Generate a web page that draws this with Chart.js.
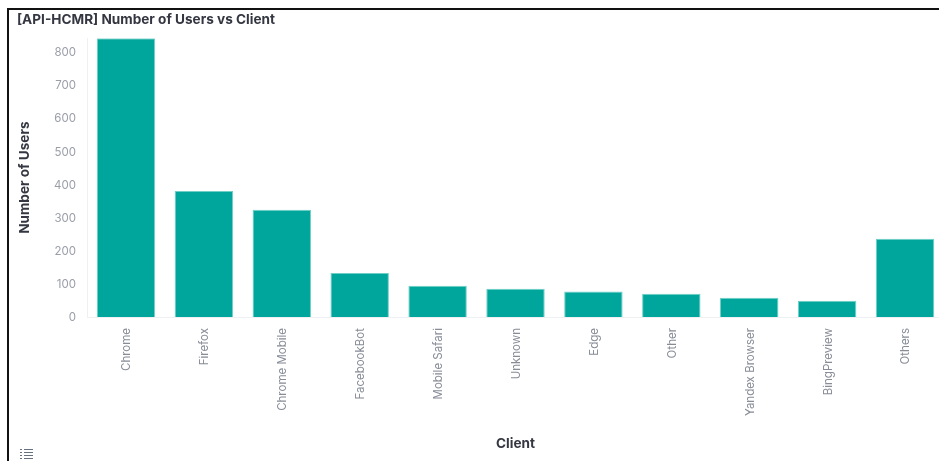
<!DOCTYPE html>
<html>
<head>
<meta charset="utf-8">
<script src="https://cdn.jsdelivr.net/npm/chart.js@4"></script>
<style>
html, body { margin: 0; padding: 0; background: #fff; overflow: hidden; width: 939px; height: 461px; }
#wrap { position: absolute; left: 0; top: 0; width: 960px; height: 461px; }
#frame { position: absolute; left: 7px; top: 8px; width: 940px; height: 460px; border-left: 2px solid #111; border-top: 2px solid #111; }
#tableIcon { position: absolute; left: 19px; top: 448px; }
</style>
</head>
<body>
<div id="wrap"><canvas id="myChart" width="960" height="461"></canvas></div>
<div id="frame"></div>
<svg id="tableIcon" width="15" height="13">
    <g stroke="#69707d" stroke-width="1">
        <path d="M1 1.5h2M5 1.5h9M1 4.5h2M5 4.5h9M1 7.5h2M5 7.5h9M1 10.5h2M5 10.5h9"/>
    </g>
</svg>
<script>
const titleText = "[API-HCMR] Number of Users vs Client";
const yTitle = "Number of Users";
const xTitle = "Client";
const categories = ["Chrome", "Firefox", "Chrome Mobile", "FacebookBot", "Mobile Safari", "Unknown", "Edge", "Other", "Yandex Browser", "BingPreview", "Others"];
const users = [840, 380, 323, 133, 94, 85, 77, 70, 58, 49, 236];
const yTicks = [0, 100, 200, 300, 400, 500, 600, 700, 800];

Chart.defaults.font.family = "Inter";
Chart.defaults.animation = false;

let ctx = document.getElementById("myChart").getContext("2d");
let myChart = new Chart(ctx, {
    type: "bar",
    data: {
        labels: categories,
        datasets: [
            {
                label: yTitle,
                data: users,
                backgroundColor: "#00a69b",
                borderColor: "#6fcfc7",
                borderWidth: 1,
                barPercentage: 0.75,
                categoryPercentage: 1,
            },
        ],
    },
    options: {
        responsive: false,
        maintainAspectRatio: false,
        layout: { padding: { left: 17, right: 16, top: 0, bottom: 0 } },
        plugins: {
            legend: { display: false },
            tooltip: { enabled: false },
            title: {
                display: true,
                text: titleText,
                align: "start",
                color: "#343741",
                font: { size: 13.6, weight: "bold" },
                padding: { top: 12, bottom: 10 },
            },
        },
        scales: {
            x: {
                grid: { display: false, drawTicks: false },
                border: { color: "#eef0f4", width: 1 },
                ticks: {
                    autoSkip: false,
                    minRotation: 90,
                    maxRotation: 90,
                    padding: 11,
                    labelOffset: 1,
                    color: "#878c97",
                    font: { size: 11.5 },
                },
                title: {
                    display: true,
                    text: xTitle,
                    color: "#343741",
                    font: { size: 13.6, weight: "bold" },
                    padding: { top: 0, bottom: 9 },
                },
                afterFit: (scale) => { scale.height = 144; },
            },
            y: {
                min: 0,
                max: 840,
                grid: { display: false, drawTicks: false },
                border: { color: "#eef0f4", width: 1 },
                afterBuildTicks: (scale) => { scale.ticks = yTicks.map((v) => ({ value: v })); },
                ticks: {
                    padding: 11,
                    labelOffset: 1,
                    color: "#9a9ea8",
                    font: { size: 11.5 },
                },
                title: {
                    display: true,
                    text: yTitle,
                    color: "#343741",
                    font: { size: 13.6, weight: "bold" },
                    padding: { top: 0, bottom: 0 },
                },
                afterFit: (scale) => { scale.width = 70; },
            },
        },
    },
});
</script>
</body>
</html>
